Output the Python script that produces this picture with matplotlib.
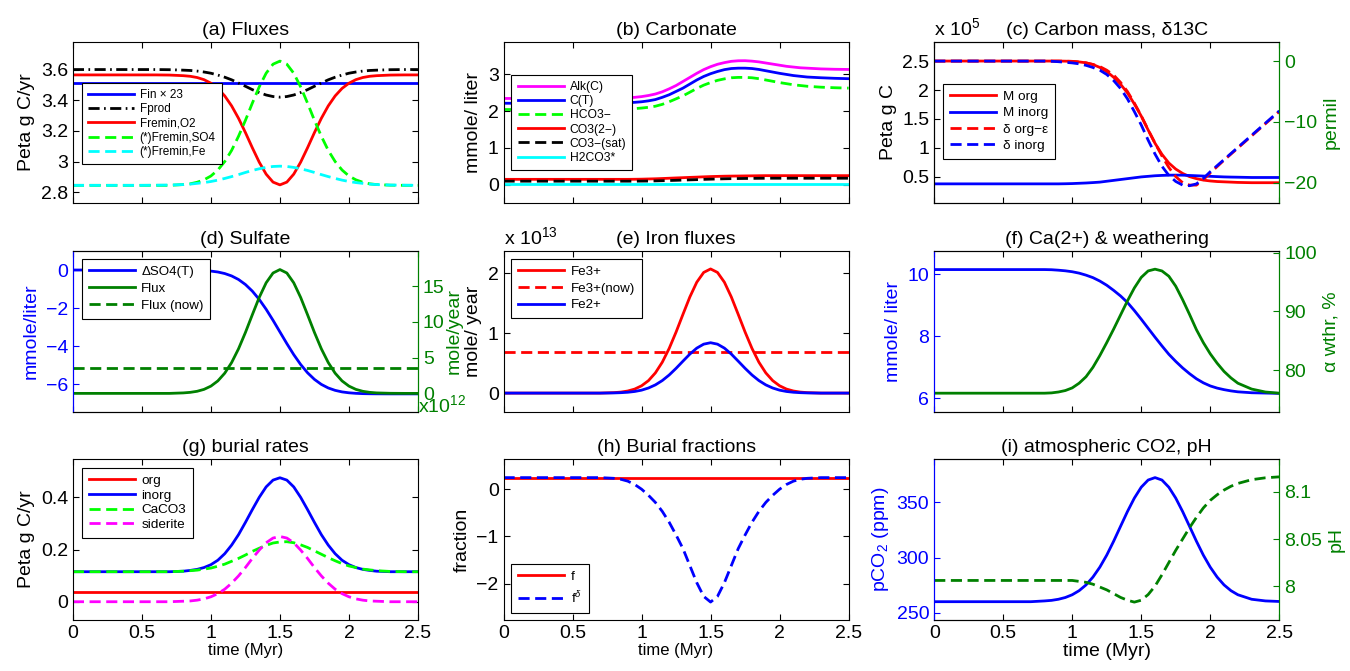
import matplotlib
matplotlib.use('Agg')
import matplotlib.pyplot as plt
from matplotlib.ticker import FuncFormatter

plt.rcParams['font.family'] = ['Liberation Sans', 'DejaVu Sans']
plt.rcParams['mathtext.fontset'] = 'custom'
plt.rcParams['mathtext.rm'] = 'Liberation Sans'
plt.rcParams['mathtext.it'] = 'Liberation Sans:italic'
plt.rcParams['mathtext.bf'] = 'Liberation Sans:bold'
plt.rcParams['axes.linewidth'] = 0.8
plt.rcParams['lines.dashed_pattern'] = [4.0, 2.0]
plt.rcParams['lines.dashdot_pattern'] = [4.0, 1.6, 0.6, 1.6]

# time axis (Myr), denser around the event
time = [0.0, 0.1, 0.2, 0.3, 0.4, 0.5, 0.6, 0.7,
        0.8, 0.85, 0.9, 0.95, 1.0, 1.05, 1.1, 1.15, 1.2, 1.25, 1.3, 1.35, 1.4, 1.45, 1.5,
        1.55, 1.6, 1.65, 1.7, 1.75, 1.8, 1.85, 1.9, 1.95, 2.0, 2.05, 2.1, 2.15, 2.2,
        2.3, 2.4, 2.5]
xticks = [0, 0.5, 1, 1.5, 2, 2.5]

# (a) Fluxes, Peta g C/yr
fin_x23 = 3.51
fprod = [3.60, 3.60, 3.60, 3.60, 3.60, 3.60, 3.60, 3.599,
         3.596, 3.594, 3.590, 3.584, 3.576, 3.564, 3.550, 3.533, 3.512, 3.491, 3.469, 3.450, 3.434, 3.424, 3.420,
         3.424, 3.434, 3.450, 3.469, 3.491, 3.512, 3.533, 3.550, 3.564, 3.576, 3.584, 3.590, 3.594, 3.596,
         3.599, 3.60, 3.60]
fremin_o2 = [3.565, 3.565, 3.565, 3.565, 3.565, 3.565, 3.565, 3.564,
             3.560, 3.556, 3.548, 3.534, 3.511, 3.477, 3.428, 3.363, 3.282, 3.189, 3.090, 2.996, 2.918, 2.866, 2.848,
             2.866, 2.918, 2.996, 3.090, 3.189, 3.282, 3.363, 3.428, 3.477, 3.511, 3.534, 3.548, 3.556, 3.560,
             3.564, 3.565, 3.565]
fremin_so4 = [2.845, 2.845, 2.845, 2.845, 2.845, 2.845, 2.845, 2.845,
              2.850, 2.855, 2.865, 2.881, 2.906, 2.945, 3.000, 3.073, 3.165, 3.269, 3.381, 3.487, 3.576, 3.635, 3.655,
              3.635, 3.576, 3.487, 3.381, 3.269, 3.165, 3.073, 3.000, 2.945, 2.906, 2.881, 2.865, 2.855, 2.850,
              2.846, 2.845, 2.845]
fremin_fe = [2.845, 2.845, 2.845, 2.845, 2.845, 2.845, 2.846, 2.847,
             2.850, 2.853, 2.858, 2.863, 2.870, 2.879, 2.890, 2.902, 2.915, 2.929, 2.942, 2.953, 2.962, 2.968, 2.970,
             2.968, 2.962, 2.953, 2.942, 2.929, 2.915, 2.902, 2.890, 2.879, 2.870, 2.863, 2.858, 2.853, 2.850,
             2.847, 2.846, 2.845]

# (b) Carbonate, mmole/liter
alk = [2.34, 2.34, 2.34, 2.34, 2.34, 2.34, 2.34, 2.34,
       2.345, 2.35, 2.36, 2.37, 2.39, 2.42, 2.46, 2.52, 2.60, 2.69, 2.80, 2.91, 3.02, 3.12, 3.20,
       3.265, 3.31, 3.345, 3.36, 3.362, 3.35, 3.33, 3.30, 3.27, 3.24, 3.21, 3.19, 3.17, 3.16,
       3.14, 3.13, 3.125]
c_total = [2.21, 2.21, 2.21, 2.21, 2.21, 2.21, 2.21, 2.21,
           2.215, 2.22, 2.225, 2.235, 2.25, 2.275, 2.31, 2.37, 2.44, 2.53, 2.62, 2.73, 2.84, 2.935, 3.01,
           3.07, 3.12, 3.15, 3.16, 3.16, 3.15, 3.125, 3.09, 3.055, 3.02, 2.99, 2.96, 2.94, 2.92,
           2.90, 2.885, 2.875]
hco3 = [2.04, 2.04, 2.04, 2.04, 2.04, 2.04, 2.04, 2.04,
        2.045, 2.05, 2.055, 2.065, 2.08, 2.10, 2.13, 2.18, 2.25, 2.33, 2.41, 2.51, 2.61, 2.70, 2.77,
        2.83, 2.87, 2.90, 2.91, 2.91, 2.90, 2.875, 2.84, 2.805, 2.77, 2.74, 2.71, 2.69, 2.67,
        2.645, 2.63, 2.62]
co3 = [0.15, 0.15, 0.15, 0.15, 0.15, 0.15, 0.15, 0.15,
       0.15, 0.15, 0.15, 0.152, 0.155, 0.16, 0.165, 0.172, 0.18, 0.188, 0.195, 0.203, 0.21, 0.218, 0.225,
       0.23, 0.235, 0.238, 0.24, 0.243, 0.245, 0.248, 0.25, 0.25, 0.25, 0.25, 0.25, 0.25, 0.25,
       0.25, 0.25, 0.25]
co3_sat = [0.10, 0.10, 0.10, 0.10, 0.10, 0.10, 0.10, 0.10,
           0.10, 0.10, 0.10, 0.101, 0.102, 0.104, 0.108, 0.113, 0.118, 0.124, 0.13, 0.136, 0.142, 0.149, 0.155,
           0.16, 0.165, 0.169, 0.172, 0.174, 0.176, 0.178, 0.179, 0.18, 0.18, 0.18, 0.18, 0.18, 0.18,
           0.18, 0.18, 0.18]
h2co3 = 0.015

# (c) Carbon mass (x 1e5 Peta g C) and d13C (permil)
m_org = [2.50, 2.50, 2.50, 2.50, 2.50, 2.50, 2.50, 2.50,
         2.50, 2.50, 2.50, 2.498, 2.495, 2.485, 2.47, 2.44, 2.39, 2.32, 2.22, 2.10, 1.95, 1.76, 1.55,
         1.31, 1.08, 0.89, 0.74, 0.635, 0.56, 0.505, 0.47, 0.445, 0.43, 0.42, 0.415, 0.41, 0.405,
         0.40, 0.40, 0.40]
m_inorg = [0.38, 0.38, 0.38, 0.38, 0.38, 0.38, 0.38, 0.38,
           0.38, 0.38, 0.38, 0.382, 0.385, 0.39, 0.395, 0.402, 0.41, 0.425, 0.44, 0.455, 0.47, 0.485, 0.50,
           0.51, 0.52, 0.526, 0.53, 0.531, 0.53, 0.525, 0.52, 0.515, 0.51, 0.505, 0.50, 0.497, 0.495,
           0.49, 0.49, 0.49]
d_org = [0, 0, 0, 0, 0, 0, 0, 0,
         0, 0, 0, -0.02, -0.05, -0.15, -0.3, -0.55, -0.9, -1.5, -2.3, -3.5, -5.0, -6.9, -9.0,
         -11.3, -13.5, -15.6, -17.5, -19.0, -20.0, -20.4, -20.4, -19.5, -18.4, -17.35, -16.3, -15.3, -14.3,
         -12.3, -10.3, -8.3]
d_inorg = [0, 0, 0, 0, 0, 0, 0, 0,
           0, -0.03, -0.1, -0.2, -0.3, -0.45, -0.7, -1.05, -1.5, -2.2, -3.2, -4.5, -6.2, -8.3, -10.5,
           -13.0, -15.3, -17.3, -18.8, -19.8, -20.4, -20.5, -20.2, -19.3, -18.2, -17.2, -16.2, -15.2, -14.2,
           -12.2, -10.2, -8.2]

# (d) Sulfate
dso4 = [0, 0, 0, 0, 0, 0, 0, 0,
        -0.003, -0.007, -0.014, -0.029, -0.057, -0.104, -0.185, -0.311, -0.498, -0.761, -1.108, -1.544, -2.06,
        -2.639, -3.25,
        -3.861, -4.44, -4.956, -5.392, -5.739, -6.002, -6.189, -6.315, -6.396, -6.443, -6.471, -6.486, -6.493,
        -6.497,
        -6.5, -6.5, -6.5]
so4_flux = [0, 0, 0, 0, 0, 0, 0, 0,
            0.067, 0.144, 0.292, 0.561, 1.017, 1.742, 2.82, 4.308, 6.228, 8.512, 10.99, 13.41, 15.45, 16.82, 17.3,
            16.82, 15.45, 13.41, 10.99, 8.512, 6.228, 4.308, 2.82, 1.742, 1.017, 0.561, 0.292, 0.144, 0.067,
            0.013, 0, 0]
so4_flux_now = 3.6

# (e) Iron fluxes (x 1e13 mole/year)
fe3 = [0, 0, 0, 0, 0, 0, 0, 0,
       0.008, 0.017, 0.035, 0.067, 0.122, 0.208, 0.337, 0.515, 0.745, 1.018, 1.314, 1.604, 1.849, 2.012, 2.07,
       2.012, 1.849, 1.604, 1.314, 1.018, 0.745, 0.515, 0.337, 0.208, 0.122, 0.067, 0.035, 0.017, 0.008,
       0, 0, 0]
fe2 = [0, 0, 0, 0, 0, 0, 0, 0,
       0.003, 0.007, 0.014, 0.027, 0.049, 0.085, 0.137, 0.209, 0.302, 0.413, 0.533, 0.651, 0.750, 0.816, 0.84,
       0.816, 0.750, 0.651, 0.533, 0.413, 0.302, 0.209, 0.137, 0.085, 0.049, 0.027, 0.014, 0.007, 0.003,
       0, 0, 0]
fe3_now = 0.68

# (f) Ca(2+) and weathering
ca = [10.15, 10.15, 10.15, 10.15, 10.15, 10.15, 10.15, 10.15,
      10.15, 10.145, 10.13, 10.11, 10.08, 10.035, 9.97, 9.89, 9.78, 9.645, 9.48, 9.30, 9.09, 8.83, 8.55,
      8.26, 7.97, 7.69, 7.42, 7.19, 6.98, 6.795, 6.63, 6.50, 6.40, 6.33, 6.28, 6.24, 6.21,
      6.18, 6.17, 6.16]
alpha_wthr = [76.1, 76.1, 76.1, 76.1, 76.1, 76.1, 76.1, 76.1,
              76.1, 76.15, 76.3, 76.55, 77.0, 77.8, 78.9, 80.5, 82.5, 84.7, 87.0, 89.4, 91.8, 94.0, 95.8,
              96.9, 97.2, 96.9, 96.0, 94.3, 92.0, 89.5, 86.9, 84.7, 82.8, 81.2, 79.8, 78.7, 77.8,
              76.8, 76.3, 76.1]

# (g) burial rates, Peta g C/yr
bur_org = 0.038
bur_inorg = [0.115, 0.115, 0.115, 0.115, 0.115, 0.115, 0.115, 0.115,
             0.117, 0.120, 0.124, 0.131, 0.142, 0.159, 0.184, 0.217, 0.257, 0.304, 0.353, 0.400, 0.440, 0.466, 0.475,
             0.466, 0.440, 0.400, 0.353, 0.304, 0.257, 0.217, 0.184, 0.159, 0.142, 0.131, 0.124, 0.120, 0.117,
             0.115, 0.115, 0.115]
bur_caco3 = [0.115, 0.115, 0.115, 0.115, 0.115, 0.115, 0.115, 0.115,
             0.117, 0.119, 0.121, 0.125, 0.129, 0.136, 0.144, 0.155, 0.166, 0.179, 0.193, 0.205, 0.216, 0.225, 0.229,
             0.230, 0.226, 0.218, 0.208, 0.195, 0.182, 0.169, 0.157, 0.146, 0.137, 0.131, 0.125, 0.122, 0.119,
             0.116, 0.115, 0.115]
bur_siderite = [0, 0, 0, 0, 0, 0, 0, 0,
                0.002, 0.003, 0.006, 0.011, 0.019, 0.031, 0.048, 0.071, 0.099, 0.131, 0.166, 0.198, 0.226, 0.244,
                0.25,
                0.244, 0.226, 0.198, 0.166, 0.131, 0.099, 0.071, 0.048, 0.031, 0.019, 0.011, 0.006, 0.003, 0.002,
                0, 0, 0]

# (h) Burial fractions
frac_f = 0.245
frac_fdelta = [0.245, 0.245, 0.245, 0.245, 0.245, 0.245, 0.245, 0.245,
               0.23, 0.21, 0.17, 0.10, 0.0, -0.13, -0.28, -0.47, -0.70, -0.97, -1.26, -1.62, -1.98, -2.27, -2.39,
               -2.27, -1.98, -1.62, -1.26, -0.97, -0.70, -0.47, -0.28, -0.13, 0.0, 0.10, 0.17, 0.21, 0.23,
               0.245, 0.245, 0.245]

# (i) atmospheric CO2 and pH
pco2 = [260, 260, 260, 260, 260, 260, 260, 260,
        260.7, 261.2, 262.2, 263.8, 266.3, 270.0, 275.2, 282.3, 291.3, 302.2, 314.8, 328.3, 341.7, 353.9, 363.8,
        370.3, 372.5, 370.3, 363.8, 353.9, 341.7, 328.3, 314.8, 302.2, 291.3, 282.3, 275.2, 270.0, 266.3,
        262.2, 260.7, 260.2]
ph = [8.006, 8.006, 8.006, 8.006, 8.006, 8.006, 8.006, 8.006,
      8.006, 8.006, 8.006, 8.006, 8.006, 8.005, 8.004, 8.002, 7.999, 7.996, 7.992, 7.988, 7.985, 7.983, 7.985,
      7.991, 8.000, 8.012, 8.025, 8.038, 8.050, 8.062, 8.073, 8.083, 8.091, 8.097, 8.102, 8.106, 8.109,
      8.113, 8.115, 8.116]

BLUE = (0, 0, 1)
RED = (1, 0, 0)
LGREEN = (0, 1, 0)
CYAN = (0, 1, 1)
MAGENTA = (1, 0, 1)
DKGREEN = (0, 0.5, 0)
LW = 2.0
FS = 14

fmt = FuncFormatter(lambda v, p: f'{v:g}'.replace('-', '\u2212'))

fig = plt.figure(figsize=(13.5, 6.71), dpi=100)
lefts = [0.054, 0.373, 0.692]
bottoms = [0.6975, 0.386, 0.076]
W, H = 0.2556, 0.240


def make_ax(row, col, title, twin=False, xlabel_fs=None):
    ax = fig.add_axes([lefts[col], bottoms[row], W, H])
    ax.set_xlim(0, 2.5)
    ax.set_xticks(xticks)
    ax.tick_params(direction='in', length=4, width=0.8, labelsize=FS,
                   top=True, right=not twin)
    ax.yaxis.set_major_formatter(fmt)
    if xlabel_fs:
        ax.xaxis.set_major_formatter(fmt)
        ax.set_xlabel('time (Myr)', fontsize=xlabel_fs, labelpad=1)
    else:
        ax.set_xticklabels([])
    ax.set_title(title, fontsize=FS, pad=5)
    return ax


def make_twin(ax, lcolor, rcolor):
    ax2 = ax.twinx()
    ax2.tick_params(direction='in', length=4, width=0.8, labelsize=FS, colors=rcolor)
    ax.tick_params(axis='y', colors=lcolor)
    ax2.yaxis.set_major_formatter(fmt)
    for a in (ax, ax2):
        a.spines['left'].set_color(lcolor)
        a.spines['right'].set_color(rcolor)
    return ax2


def add_legend(ax, handles, loc, anchor, fs, spacing):
    # matlab legends: ~46 px long line samples, font shrinks with entry count
    hl = 46.0 / (fs * 100 / 72)
    lg = ax.legend(handles=handles, loc=loc, bbox_to_anchor=anchor, borderaxespad=0,
                   fontsize=fs, fancybox=False, edgecolor='k', framealpha=1,
                   handlelength=hl, handletextpad=0.5, labelspacing=spacing, borderpad=0.5)
    lg.get_frame().set_linewidth(0.8)
    return lg


# (a)
ax = make_ax(0, 0, '(a) Fluxes')
h1 = ax.axhline(fin_x23, color=BLUE, lw=LW, label='Fin \u00d7 23')
h2, = ax.plot(time, fprod, '-.', color='k', lw=LW, label='Fprod')
h3, = ax.plot(time, fremin_o2, '-', color=RED, lw=LW, label='Fremin,O2')
h4, = ax.plot(time, fremin_so4, '--', color=LGREEN, lw=LW, label='(*)Fremin,SO4')
h5, = ax.plot(time, fremin_fe, '--', color=CYAN, lw=LW, label='(*)Fremin,Fe')
ax.set_ylim(2.73, 3.78)
ax.set_yticks([2.8, 3, 3.2, 3.4, 3.6])
ax.set_ylabel('Peta g C/yr', fontsize=FS)
add_legend(ax, [h1, h2, h3, h4, h5], 'upper left', (0.026, 0.745), 8.5, 0.2)

# (b)
ax = make_ax(0, 1, '(b) Carbonate')
h1, = ax.plot(time, alk, '-', color=MAGENTA, lw=LW, label='Alk(C)')
h2, = ax.plot(time, c_total, '-', color=BLUE, lw=LW, label='C(T)')
h3, = ax.plot(time, hco3, '--', color=LGREEN, lw=LW, label='HCO3\u2212')
h4, = ax.plot(time, co3, '-', color=RED, lw=LW, label='CO3(2\u2212)')
h5, = ax.plot(time, co3_sat, '--', color='k', lw=LW, label='CO3\u2212(sat)')
h6 = ax.axhline(h2co3, color=CYAN, lw=LW, label='H2CO3*')
ax.set_ylim(-0.49, 3.87)
ax.set_yticks([0, 1, 2, 3])
ax.set_ylabel('mmole/ liter', fontsize=FS)
add_legend(ax, [h1, h2, h3, h4, h5, h6], 'upper left', (0.023, 0.795), 8.7, 0.18)

# (c)
ax = make_ax(0, 2, '(c) Carbon mass, \u03b413C', twin=True)
ax2 = make_twin(ax, 'k', DKGREEN)
h1, = ax.plot(time, m_org, '-', color=RED, lw=LW, label='M org')
h2, = ax.plot(time, m_inorg, '-', color=BLUE, lw=LW, label='M inorg')
h3, = ax2.plot(time, d_org, '--', color=RED, lw=LW, label='\u03b4 org\u2212\u03b5')
h4, = ax2.plot(time, d_inorg, '--', color=BLUE, lw=LW, label='\u03b4 inorg')
ax.set_ylim(0.05, 2.83)
ax.set_yticks([0.5, 1, 1.5, 2, 2.5])
ax2.set_ylim(-23.34, 3.15)
ax2.set_yticks([-20, -10, 0])
ax.set_ylabel('Peta g C', fontsize=FS)
ax2.set_ylabel('permil', fontsize=FS, color=DKGREEN)
ax.text(0, 1.02, 'x 10$^5$', transform=ax.transAxes, ha='left', va='bottom', fontsize=FS)
add_legend(ax2, [h1, h2, h3, h4], 'upper left', (0.026, 0.74), 9.7, 0.29)

# (d)
ax = make_ax(1, 0, '(d) Sulfate', twin=True)
ax2 = make_twin(ax, BLUE, DKGREEN)
h1, = ax.plot(time, dso4, '-', color=BLUE, lw=LW, label='\u0394SO4(T)')
h2, = ax2.plot(time, so4_flux, '-', color=DKGREEN, lw=LW, label='Flux')
h3 = ax2.axhline(so4_flux_now, ls='--', color=DKGREEN, lw=LW, label='Flux (now)')
ax.set_ylim(-7.45, 1.0)
ax.set_yticks([-6, -4, -2, 0])
ax2.set_ylim(-2.6, 19.9)
ax2.set_yticks([0, 5, 10, 15])
ax.set_ylabel('mmole/liter', fontsize=FS, color=BLUE)
ax2.set_ylabel('mole/year', fontsize=FS, color=DKGREEN, labelpad=1)
ax2.text(1.0, 0.04, 'x10$^{12}$', transform=ax2.transAxes, ha='left', va='center',
         fontsize=FS, color=DKGREEN)
add_legend(ax2, [h1, h2, h3], 'upper left', (0.026, 0.95), 9.6, 0.35)

# (e)
ax = make_ax(1, 1, '(e) Iron fluxes')
h1, = ax.plot(time, fe3, '-', color=RED, lw=LW, label='Fe3+')
h2 = ax.axhline(fe3_now, ls='--', color=RED, lw=LW, label='Fe3+(now)')
h3, = ax.plot(time, fe2, '-', color=BLUE, lw=LW, label='Fe2+')
ax.set_ylim(-0.315, 2.37)
ax.set_yticks([0, 1, 2])
ax.set_ylabel('mole/ year', fontsize=FS)
ax.text(0, 1.02, 'x 10$^{13}$', transform=ax.transAxes, ha='left', va='bottom', fontsize=FS)
add_legend(ax, [h1, h2, h3], 'upper left', (0.023, 0.95), 9.6, 0.32)

# (f)
ax = make_ax(1, 2, '(f) Ca(2+) & weathering', twin=True)
ax2 = make_twin(ax, BLUE, DKGREEN)
ax.plot(time, ca, '-', color=BLUE, lw=LW)
ax2.plot(time, alpha_wthr, '-', color=DKGREEN, lw=LW)
ax.set_ylim(5.56, 10.75)
ax.set_yticks([6, 8, 10])
ax2.set_ylim(72.9, 100.3)
ax2.set_yticks([80, 90, 100])
ax.set_ylabel('mmole/ liter', fontsize=FS, color=BLUE)
ax2.set_ylabel('\u03b1 wthr, %', fontsize=FS, color=DKGREEN)

# (g)
ax = make_ax(2, 0, '(g) burial rates', xlabel_fs=12)
h1 = ax.axhline(bur_org, color=RED, lw=LW, label='org')
h2, = ax.plot(time, bur_inorg, '-', color=BLUE, lw=LW, label='inorg')
h3, = ax.plot(time, bur_caco3, '--', color=LGREEN, lw=LW, label='CaCO3')
h4, = ax.plot(time, bur_siderite, '--', color=MAGENTA, lw=LW, label='siderite')
ax.set_ylim(-0.07, 0.547)
ax.set_yticks([0, 0.2, 0.4])
ax.set_ylabel('Peta g C/yr', fontsize=FS)
add_legend(ax, [h1, h2, h3, h4], 'upper left', (0.026, 0.946), 9.7, 0.17)

# (h)
ax = make_ax(2, 1, '(h) Burial fractions', xlabel_fs=12)
h1 = ax.axhline(frac_f, color=RED, lw=LW, label='f')
h2, = ax.plot(time, frac_fdelta, '--', color=BLUE, lw=LW, label='f$^{\\delta}$')
ax.set_ylim(-2.77, 0.64)
ax.set_yticks([-2, -1, 0])
ax.set_ylabel('fraction', fontsize=FS)
add_legend(ax, [h1, h2], 'lower left', (0.023, 0.045), 9.7, 0.47)

# (i)
ax = make_ax(2, 2, '(i) atmospheric CO2, pH', twin=True, xlabel_fs=14)
ax2 = make_twin(ax, BLUE, DKGREEN)
ax.plot(time, pco2, '-', color=BLUE, lw=LW)
ax2.plot(time, ph, '--', color=DKGREEN, lw=LW)
ax.set_ylim(243.4, 389.4)
ax.set_yticks([250, 300, 350])
ax2.set_ylim(7.964, 8.135)
ax2.set_yticks([8, 8.05, 8.1])
ax.set_ylabel('pCO$_2$ (ppm)', fontsize=FS, color=BLUE)
ax2.set_ylabel('pH', fontsize=FS, color=DKGREEN)

fig.savefig('out.png', dpi=100)
